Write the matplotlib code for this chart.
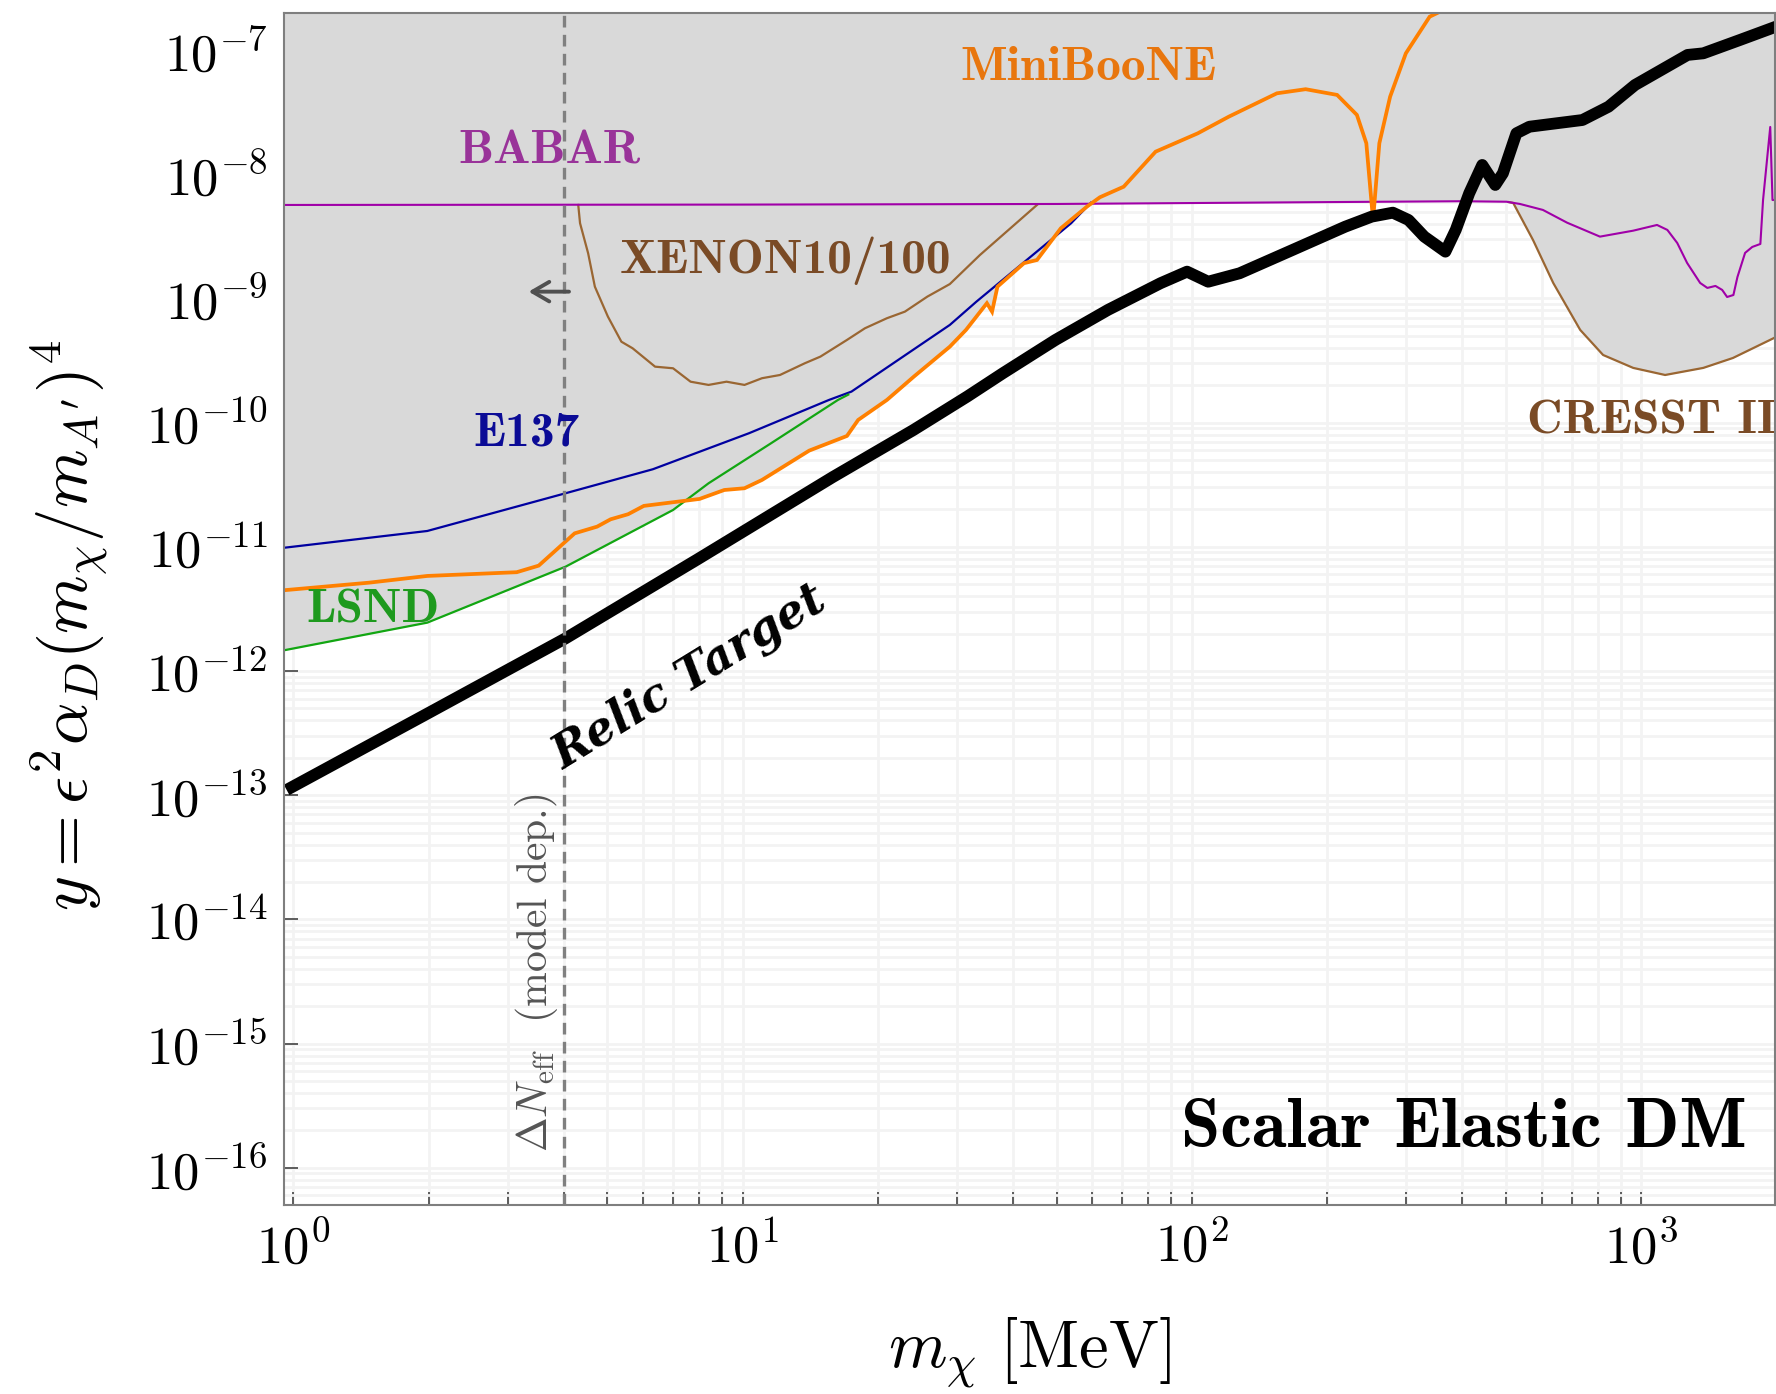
import numpy as np
import matplotlib
matplotlib.use("Agg")
import matplotlib.pyplot as plt
from matplotlib.ticker import FixedLocator, FuncFormatter, LogLocator, NullFormatter

# ---------------------------------------------------------------------------
# Curves, stored as (log10 m_chi [MeV], log10 y)
# ---------------------------------------------------------------------------
relic_logm = [-0.015, 0.300, 0.606, 0.900, 1.200, 1.380, 1.500, 1.579, 1.696,
              1.813, 1.930, 1.989, 2.036, 2.106, 2.224, 2.341, 2.400, 2.447,
              2.482, 2.517, 2.564, 2.587, 2.617, 2.646, 2.675, 2.692, 2.722,
              2.751, 2.869, 2.927, 2.986, 3.103, 3.138, 3.220, 3.300]
relic_logy = [-12.958, -12.340, -11.737, -11.100, -10.440, -10.060, -9.790,
              -9.603, -9.335, -9.093, -8.878, -8.785, -8.866, -8.798, -8.610,
              -8.423, -8.342, -8.310, -8.369, -8.503, -8.624, -8.449, -8.154,
              -7.926, -8.087, -7.993, -7.671, -7.618, -7.564, -7.457, -7.282,
              -7.040, -7.027, -6.919, -6.812]

babar_logm = [-0.03, 1.0, 1.7, 2.3, 2.6, 2.70, 2.730, 2.781, 2.835, 2.908, 2.982,
              3.035, 3.058, 3.080, 3.102, 3.131, 3.147, 3.165, 3.180, 3.191,
              3.205, 3.214, 3.231, 3.247, 3.265, 3.271, 3.287, 3.292, 3.31]
babar_logy = [-8.248, -8.245, -8.240, -8.225, -8.218, -8.222, -8.240, -8.288,
              -8.391, -8.503, -8.455, -8.409, -8.449, -8.554, -8.715, -8.876,
              -8.916, -8.900, -8.932, -8.989, -8.973, -8.828, -8.634, -8.586,
              -8.562, -8.208, -7.620, -8.208, -8.208]

e137_logm = [-0.030, 0.298, 0.606, 0.800, 1.014, 1.192, 1.242, 1.461, 1.520,
             1.731, 1.775]
e137_logy = [-11.012, -10.873, -10.569, -10.376, -10.086, -9.818, -9.751,
             -9.214, -9.027, -8.395, -8.230]

lsnd_logm = [-0.030, 0.298, 0.606, 0.845, 0.924, 1.063, 1.212, 1.235]
lsnd_logy = [-11.840, -11.611, -11.160, -10.704, -10.489, -10.167, -9.818, -9.775]

miniboone_logm = [-0.030, 0.169, 0.298, 0.497, 0.546, 0.626, 0.676, 0.706,
                  0.745, 0.780, 0.904, 0.959, 1.004, 1.043, 1.148, 1.232,
                  1.257, 1.321, 1.381, 1.461, 1.497, 1.5435, 1.555, 1.567,
                  1.626, 1.655, 1.708, 1.766, 1.795, 1.848, 1.919, 2.013,
                  2.082, 2.189, 2.253, 2.323, 2.367, 2.388, 2.403, 2.417,
                  2.441, 2.476, 2.529, 2.552]
miniboone_logy = [-11.353, -11.289, -11.235, -11.205, -11.152, -10.892, -10.838,
                  -10.779, -10.738, -10.671, -10.615, -10.543, -10.529, -10.462,
                  -10.226, -10.108, -9.979, -9.818, -9.630, -9.389, -9.254,
                  -9.039, -9.107, -8.906, -8.717, -8.691, -8.436, -8.262,
                  -8.186, -8.101, -7.819, -7.671, -7.537, -7.349, -7.316,
                  -7.362, -7.523, -7.751, -8.369, -7.751, -7.376, -7.027,
                  -6.732, -6.692]

xenon_logm = [0.634, 0.638, 0.656, 0.671, 0.700, 0.730, 0.755, 0.805, 0.845,
              0.884, 0.924, 0.964, 1.004, 1.043, 1.083, 1.138, 1.173, 1.232,
              1.272, 1.321, 1.361, 1.411, 1.461, 1.528, 1.655]
xenon_logy = [-8.248, -8.395, -8.637, -8.906, -9.147, -9.349, -9.402, -9.550,
              -9.563, -9.671, -9.697, -9.671, -9.697, -9.643, -9.617, -9.523,
              -9.469, -9.335, -9.241, -9.160, -9.107, -8.986, -8.885, -8.651,
              -8.248]

cresst_logm = [2.705, 2.715, 2.759, 2.804, 2.864, 2.915, 2.982, 3.053, 3.138,
               3.204, 3.300]
cresst_logy = [-8.225, -8.232, -8.530, -8.876, -9.254, -9.456, -9.560, -9.617,
               -9.560, -9.480, -9.311]

neff_bound_mev = 4.0

x_tick_values = [1, 10, 100, 1000]
x_tick_labels = [r"$10^{0}$", r"$10^{1}$", r"$10^{2}$", r"$10^{3}$"]
y_tick_exponents = list(range(-16, -6))

# ---------------------------------------------------------------------------
plt.rcParams["mathtext.fontset"] = "cm"
plt.rcParams["font.family"] = "serif"
plt.rcParams["font.serif"] = ["cmr10", "DejaVu Serif"]
plt.rcParams["axes.unicode_minus"] = False


def arr(v):
    return 10.0 ** np.asarray(v, dtype=float)


GRAY_FILL = "#D9D9D9"
C_BABAR, C_BABAR_TXT = "#A000A8", "#993399"
C_E137, C_E137_TXT = "#0000A0", "#0B0B96"
C_LSND, C_LSND_TXT = "#12A612", "#1E9A1E"
C_MB, C_MB_TXT = "#FF8000", "#E8760E"
C_XE, C_XE_TXT = "#9A6632", "#7A4B26"

fig = plt.figure(figsize=(17.76, 13.94), dpi=100)
ax = fig.add_axes([0.15991, 0.13558, 0.83953, 0.85531])

xmin, xmax = 10 ** -0.0209, 10 ** 3.2976
ymin, ymax = 10 ** -16.3, 10 ** -6.7
top = 10 ** -6.0

# excluded regions (opaque, same colour -> union)
for lm, ly in [(e137_logm, e137_logy), (lsnd_logm, lsnd_logy),
               (miniboone_logm, miniboone_logy), (xenon_logm, xenon_logy),
               (cresst_logm, cresst_logy), (babar_logm, babar_logy)]:
    ax.fill_between(arr(lm), arr(ly), top, color=GRAY_FILL, lw=0, zorder=1)

ax.plot(arr(e137_logm), arr(e137_logy), color=C_E137, lw=1.6, zorder=2)
ax.plot(arr(lsnd_logm), arr(lsnd_logy), color=C_LSND, lw=1.6, zorder=2)
ax.plot(arr(xenon_logm), arr(xenon_logy), color=C_XE, lw=1.6, zorder=2)
ax.plot(arr(cresst_logm), arr(cresst_logy), color=C_XE, lw=1.6, zorder=2)
ax.plot(arr(babar_logm), arr(babar_logy), color=C_BABAR, lw=1.5, zorder=2.2)
ax.plot(arr(miniboone_logm), arr(miniboone_logy), color=C_MB, lw=2.7,
        zorder=2.5, solid_joinstyle="miter")
ax.plot(arr(relic_logm), arr(relic_logy), color="black", lw=8.5, zorder=3,
        solid_joinstyle="round", solid_capstyle="butt")

# Delta N_eff bound
ax.axvline(neff_bound_mev, color="#808080", lw=2.4, ls=(0, (3.5, 2.2)), zorder=4)
ax.annotate("", xy=(10 ** 0.5235, 10 ** -8.946), xytext=(10 ** 0.6134, 10 ** -8.946),
            arrowprops=dict(arrowstyle="->,head_length=0.55,head_width=0.32",
                            color="#505050", lw=2.8, mutation_scale=22,
                            shrinkA=0, shrinkB=0), zorder=5)
ax.text(10 ** 0.5638, 10 ** -15.87, r"$\Delta N_{\rm eff}$  (model dep.)",
        rotation=90, rotation_mode="anchor", ha="left", va="baseline",
        fontsize=30, color="#555555", zorder=5)

# experiment labels
lab = dict(fontfamily="cmb10", fontsize=35.5, ha="left", va="baseline", zorder=6)
ax.text(10 ** 0.3677, 10 ** -7.918, "BABAR", color=C_BABAR_TXT, **lab)
ax.text(10 ** 1.4847, 10 ** -7.2415, "MiniBooNE", color=C_MB_TXT, **lab)
ax.text(10 ** 0.7254, 10 ** -8.793, "XENON10/100", color=C_XE_TXT, **lab)
ax.text(10 ** 0.3995, 10 ** -10.188, "E137", color=C_E137_TXT, **lab)
ax.text(10 ** 0.0298, 10 ** -11.611, "LSND", color=C_LSND_TXT, **lab)
ax.text(10 ** 2.7456, 10 ** -10.086, "CRESST II", color=C_XE_TXT, **lab)

ax.text(10 ** 3.2346, 10 ** -15.83, "Scalar Elastic DM", fontfamily="cmb10",
        fontsize=51, ha="right", va="baseline", color="black", zorder=6)
ax.text(10 ** 0.8798, 10 ** -12.051, "Relic Target", fontfamily="DejaVu Serif",
        fontweight="bold", fontstyle="italic", fontsize=33, rotation=31.5,
        rotation_mode="anchor", ha="center", va="center", color="black", zorder=6)

# axes, ticks and grid
ax.set_xscale("log")
ax.set_yscale("log")
ax.set_xlim(xmin, xmax)
ax.set_ylim(ymin, ymax)

ax.xaxis.set_major_locator(FixedLocator(x_tick_values))
ax.xaxis.set_major_formatter(FuncFormatter(
    lambda v, p: x_tick_labels[x_tick_values.index(int(round(v)))]
    if int(round(v)) in x_tick_values else ""))
ax.xaxis.set_minor_locator(LogLocator(base=10, subs=np.arange(2, 10), numticks=100))
ax.xaxis.set_minor_formatter(NullFormatter())

ax.yaxis.set_major_locator(FixedLocator([10.0 ** e for e in y_tick_exponents]))
ax.yaxis.set_major_formatter(FuncFormatter(
    lambda v, p: r"$10^{%d}$" % int(round(np.log10(v)))))
ax.yaxis.set_minor_locator(LogLocator(base=10, subs=np.arange(2, 10), numticks=200))
ax.yaxis.set_minor_formatter(NullFormatter())

ax.tick_params(axis="x", which="both", direction="in", length=9.5, width=1.1,
               color="#333333", labelsize=38, pad=12)
ax.tick_params(axis="y", which="major", direction="in", length=10, width=1.1,
               color="#333333", labelsize=38, pad=12)
ax.tick_params(axis="y", which="minor", length=0)

ax.set_axisbelow(True)
ax.grid(True, which="both", color="#F3F3F3", lw=2.0, zorder=0)

for s in ax.spines.values():
    s.set_color("#7F7F7F")
    s.set_linewidth(1.5)
    s.set_zorder(7)

ax.set_xlabel(r"$m_\chi\ [\mathrm{MeV}]$", fontsize=48)
ax.xaxis.set_label_coords(0.5, -0.093)
ax.set_ylabel(r"$y = \epsilon^2 \alpha_D (m_\chi/m_{A'})^4$", fontsize=48)
ax.yaxis.set_label_coords(-0.1166, 0.486)

fig.savefig("out.png", dpi=100)
